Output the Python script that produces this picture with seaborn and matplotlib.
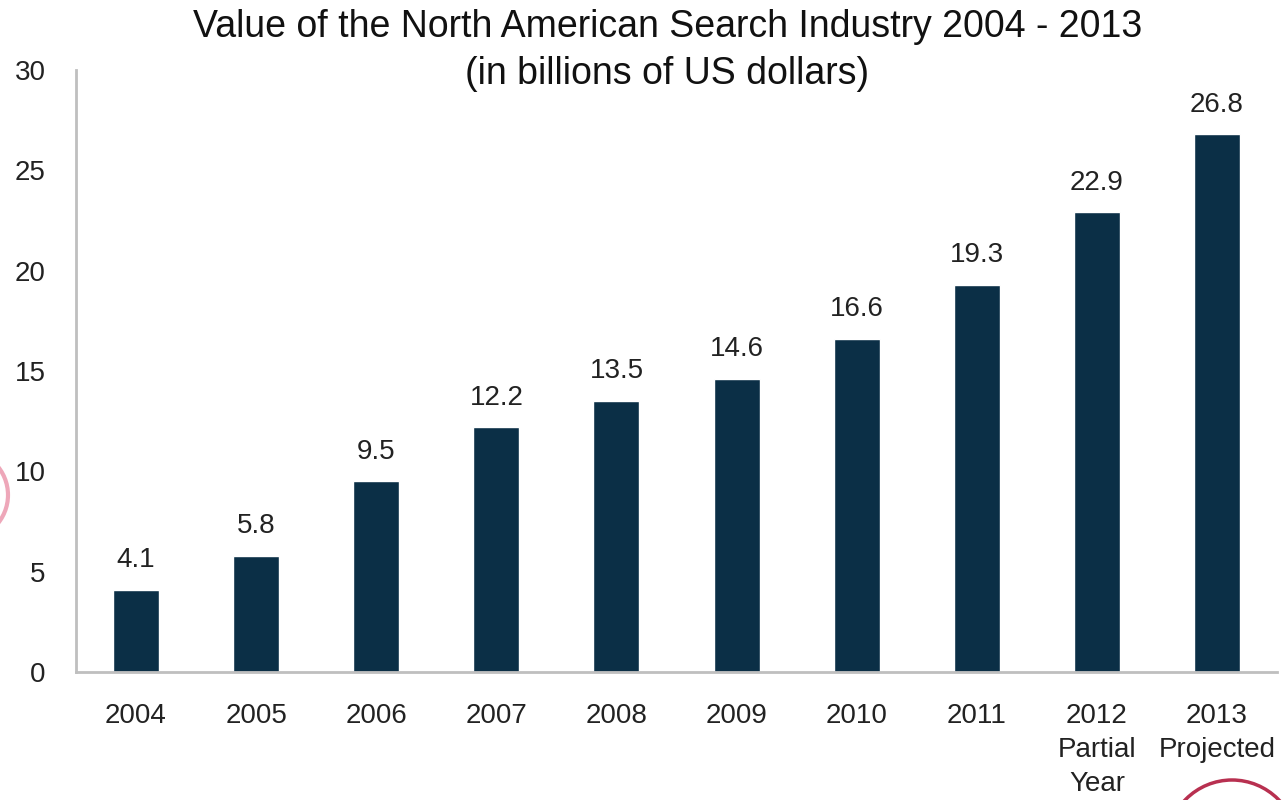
import matplotlib
matplotlib.use("Agg")
import matplotlib.pyplot as plt
import seaborn as sns
import pandas as pd
from matplotlib.patches import Circle

years = ["2004", "2005", "2006", "2007", "2008", "2009", "2010", "2011",
         "2012\nPartial\nYear", "2013\nProjected"]
values = [4.1, 5.8, 9.5, 12.2, 13.5, 14.6, 16.6, 19.3, 22.9, 26.8]
y_ticks = [0, 5, 10, 15, 20, 25, 30]

sns.set_theme(style="white")
plt.rcParams["font.family"] = ["Liberation Sans", "DejaVu Sans"]

df = pd.DataFrame({"year": years, "value": values})

fig = plt.figure(figsize=(12.88, 8), dpi=100)
ax = fig.add_axes([0.059, 0.16, 0.9325, 0.7525])

sns.barplot(data=df, x="year", y="value", color="#0B2F46", width=0.383,
            saturation=1, ax=ax)

ax.set_ylim(0, 30)
ax.set_xlim(-0.5, 9.5)
ax.set_yticks(y_ticks)
ax.set_yticklabels([str(t) for t in y_ticks], fontsize=20, color="#222222")
ax.tick_params(axis="x", labelsize=20, labelcolor="#222222", length=0, pad=22)
ax.tick_params(axis="y", length=0, pad=22)
for lbl in ax.get_xticklabels():
    lbl.set_linespacing(1.42)
ax.set_xlabel("")
ax.set_ylabel("")

for side in ["top", "right"]:
    ax.spines[side].set_visible(False)
for side in ["left", "bottom"]:
    ax.spines[side].set_color("#BFBFBF")
    ax.spines[side].set_linewidth(2)

for i, v in enumerate(values):
    ax.annotate(f"{v:.1f}", (i, v), xytext=(0, 12), textcoords="offset points",
                ha="center", va="bottom", fontsize=20, color="#222222")

fig.text(0.518, 0.966, "Value of the North American Search Industry 2004 - 2013",
         ha="center", va="center", fontsize=27, color="#111111")
fig.text(0.518, 0.907, "(in billions of US dollars)",
         ha="center", va="center", fontsize=27, color="#111111")

# decorative red rings peeking in at the edges (positions in inches)
fig.add_artist(Circle((-0.37, 3.05), 0.45, transform=fig.dpi_scale_trans,
                      fill=False, edgecolor="#E06080", linewidth=3, alpha=0.55,
                      clip_on=False))
fig.add_artist(Circle((12.32, -0.45), 0.65, transform=fig.dpi_scale_trans,
                      fill=False, edgecolor="#B83050", linewidth=2.5,
                      clip_on=False))

fig.savefig("out.png", dpi=100)
